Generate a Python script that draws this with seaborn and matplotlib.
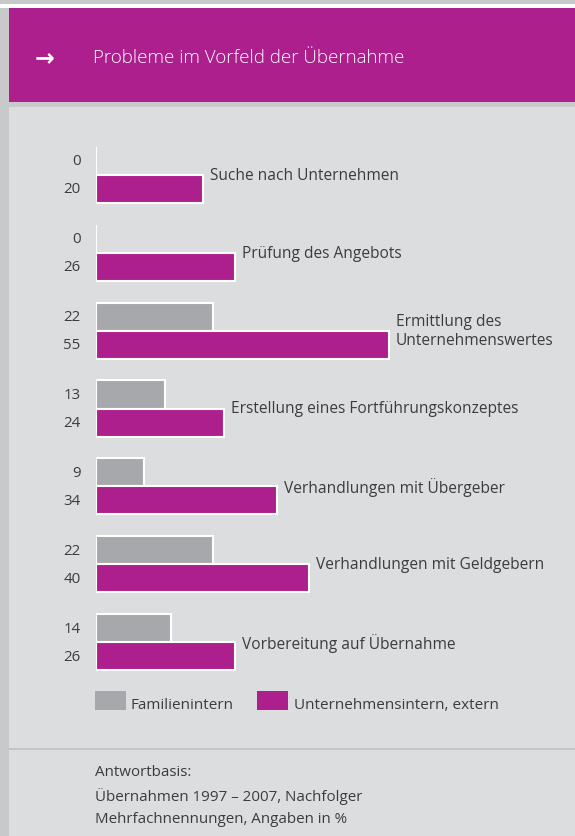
import pandas as pd
import seaborn as sns
import matplotlib.pyplot as plt
from matplotlib.patches import Rectangle

# %% DATEN
kategorien = ['Suche nach Unternehmen', 'Prüfung des Angebots',
              'Ermittlung des\nUnternehmenswertes',
              'Erstellung eines Fortführungskonzeptes',
              'Verhandlungen mit Übergeber', 'Verhandlungen mit Geldgebern',
              'Vorbereitung auf Übernahme']
familienintern = [0, 0, 22, 13, 9, 22, 14]
unternehmensintern = [20, 26, 55, 24, 34, 40, 26]
gruppen = ['Familienintern', 'Unternehmensintern, extern']

titel = 'Probleme im Vorfeld der Übernahme'
fussnote = ['Antwortbasis:', 'Übernahmen 1997 – 2007, Nachfolger',
            'Mehrfachnennungen, Angaben in %']

df = pd.DataFrame({
    'Kategorie': kategorien * 2,
    'Wert': familienintern + unternehmensintern,
    'Gruppe': [gruppen[0]] * len(kategorien) + [gruppen[1]] * len(kategorien),
})

# %% FARBEN / STIL
MAGENTA = '#ad1f8d'
GRAU = '#a7a8ab'
HG = '#dcdddf'
RAND = '#c8c9cb'
TEXT = '#3c3c3c'

sns.set_style('white')
plt.rcParams['font.family'] = ['Open Sans', 'DejaVu Sans']

W, H = 575, 837
fig = plt.figure(figsize=(W / 100, H / 100), dpi=100)
fig.patch.set_facecolor(HG)


def px(x, y):
    return x / W, 1 - y / H


def rect(x0, y0, x1, y1, color, z=0):
    fig.patches.append(Rectangle(px(x0, y1), (x1 - x0) / W, (y1 - y0) / H,
                                 transform=fig.transFigure, color=color,
                                 zorder=z, lw=0))


# Rahmen und Kopfzeile
rect(0, 0, W, 5, RAND)
rect(0, 5, W, 9, 'white')
rect(0, 9, 9, H, RAND)
rect(9, 9, W, 103, MAGENTA)
rect(9, 103, W, 108, RAND)
rect(9, 749, W, 751, '#c4c5c7')

fig.text(*px(35, 58), '→', color='white', fontsize=17, va='center',
         family=['DejaVu Sans'], fontweight='bold')
fig.text(*px(93, 58), titel, color='white', fontsize=13.5, va='center',
         fontweight='light')

# %% BALKEN
ax = fig.add_axes([96 / W, 1 - 682 / H, (W - 96) / W, (682 - 137) / H])
ax.set_facecolor('none')
sns.barplot(data=df, y='Kategorie', x='Wert', hue='Gruppe', orient='h',
            palette=[GRAU, MAGENTA], saturation=1, width=0.72,
            edgecolor='white', linewidth=1.5, ax=ax, legend=False)
ax.set_xlim(0, (W - 96) / 5.33)
ax.set_ylim(6.5, -0.5)
ax.axis('off')

for cont, werte in zip(ax.containers, [familienintern, unternehmensintern]):
    for bar, w in zip(cont, werte):
        y = bar.get_y() + bar.get_height() / 2
        ax.text(-2.9, y, str(w), ha='right', va='center', fontsize=10.8,
                color=TEXT, clip_on=False)

for i, (kat, w) in enumerate(zip(kategorien, unternehmensintern)):
    ax.text(w + 1.3, i, kat, ha='left', va='center', fontsize=11.2,
            color=TEXT, linespacing=1.25)

# %% LEGENDE
rect(95, 692, 126, 711, GRAU)
fig.text(*px(131, 706), gruppen[0], fontsize=11, color=TEXT, va='center')
rect(257, 692, 288, 711, MAGENTA)
fig.text(*px(294, 706), gruppen[1], fontsize=11, color=TEXT, va='center')

for k, zeile in enumerate(fussnote):
    fig.text(*px(95, 773 + k * 23.5), zeile, fontsize=10.9, color=TEXT,
             va='center')

plt.savefig('out.png', dpi=100, facecolor=fig.get_facecolor())
